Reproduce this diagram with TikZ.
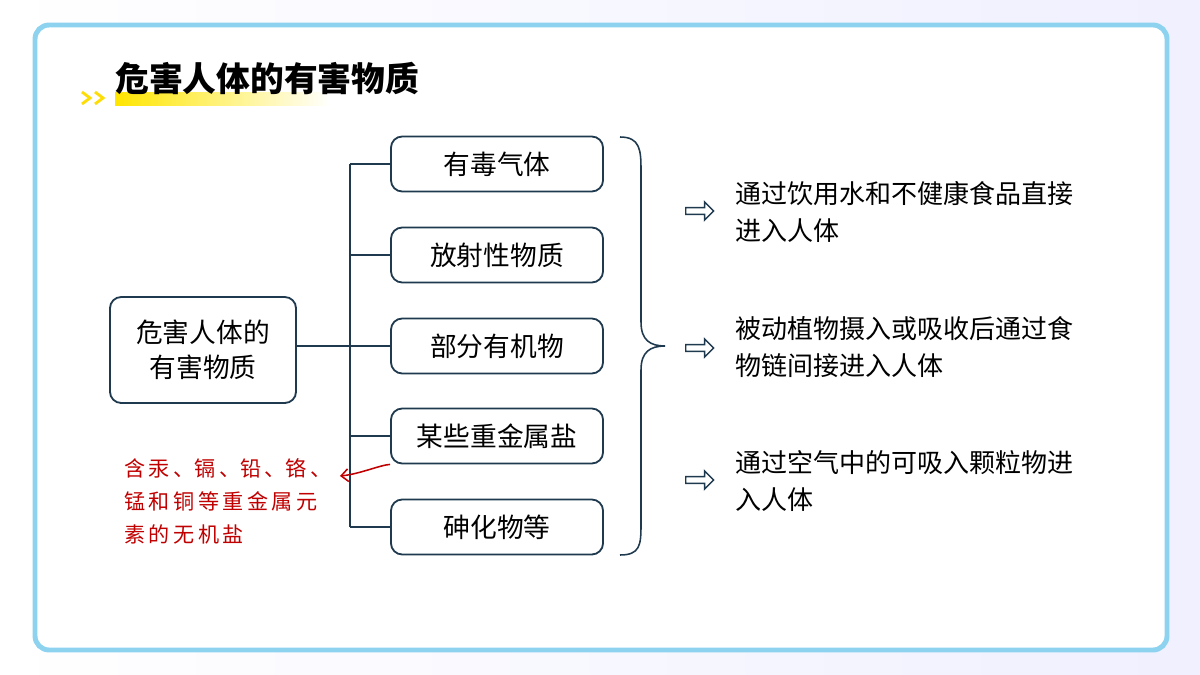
\documentclass[tikz,border=0pt]{standalone}
\usepackage{fontspec}
\setmainfont{Noto Sans CJK SC}
\usetikzlibrary{shapes.arrows,arrows.meta}
\definecolor{navy}{HTML}{1F3A4F}
\definecolor{lb}{HTML}{8DD3F0}
\definecolor{dred}{HTML}{C00000}
\begin{document}
\begin{tikzpicture}[x=0.025cm,y=-0.025cm,
 box/.style={draw=navy,line width=1.3pt,rounded corners=8pt,fill=white,inner sep=0pt,font=\fontsize{19}{25}\selectfont},
 ln/.style={draw=navy,line width=1.1pt},
 txt/.style={anchor=north west,align=left,font=\fontsize{18.5}{26.5}\selectfont,inner sep=0pt},
 harr/.style={single arrow,draw=navy,line width=1pt,minimum height=0.7cm,single arrow head extend=2.5pt,minimum width=13pt,inner sep=1pt}]
\useasboundingbox (0,0) rectangle (1200,675);
\fill[left color=white,right color=blue!6] (0,0) rectangle (1200,675);
\draw[lb,line width=3.5pt,fill=white,rounded corners=10pt] (35,25) rectangle (1167,650);
\shade[left color=yellow!80!orange,right color=white] (115,93) rectangle (330,106);
\foreach \i in {0,13}{\draw[yellow!80!orange,line width=2pt] (82+\i,92)--(90+\i,98)--(82+\i,104);}
\node[anchor=west,inner sep=0pt,font=\fontsize{24}{28}\selectfont\bfseries] (title) at (115,79) {危害人体的有害物质};
\node[box,minimum width=4.65cm,minimum height=2.65cm,align=center] (L) at (203,350) {危害人体的\\有害物质};
\foreach \n/\y/\t in {a/164/有毒气体,b/255/放射性物质,c/346/部分有机物,d/436/某些重金属盐,e/527/砷化物等}
 {\node[box,minimum width=5.3cm,minimum height=1.375cm] (\n) at (497,\y) {\t};
  \coordinate (j\n) at (350,\y);
  \draw[ln] (j\n) -- (\n.west);}
\draw[ln] (ja) -- (je);
\draw[ln] (L.east |- jc) -- (jc);
\coordinate (b1) at (620,137); \coordinate (b2) at (620,555); \coordinate (bt) at (665,346);
\draw[ln] (b1) .. controls (640,137) and (641,150) .. (641,170) -- (641,322) .. controls (641,340) and (650,346) .. (bt)
 .. controls (650,346) and (641,352) .. (641,370) -- (641,525) .. controls (641,545) and (640,555) .. (b2);
\foreach \n/\y in {p/211,q/348,r/480} \node[harr] (\n) at (698,\y) {};
\node[txt] (t1) at (735,181) {通过饮用水和不健康食品直接\\进入人体};
\node[txt] (t2) at (735,316) {被动植物摄入或吸收后通过食\\物链间接进入人体};
\node[txt] (t3) at (735,450) {通过空气中的可吸入颗粒物进\\入人体};
\node[anchor=north west,align=left,inner sep=0pt,text=dred,font=\fontsize{15}{23.5}\selectfont,text width=6cm] (red) at (124,458) {含\,汞\,、镉\,、铅\,、铬\,、\\锰\,和\,铜\,等\,重\,金\,属\,元\\素\,的\,无\,机\,盐};
\coordinate (rt) at (340,476);
\draw[dred,line width=1.1pt,-{Straight Barb[length=5pt,width=9pt]}] (d.south west) .. controls (380,465) and (360,474) .. (rt);
\end{tikzpicture}
\end{document}
